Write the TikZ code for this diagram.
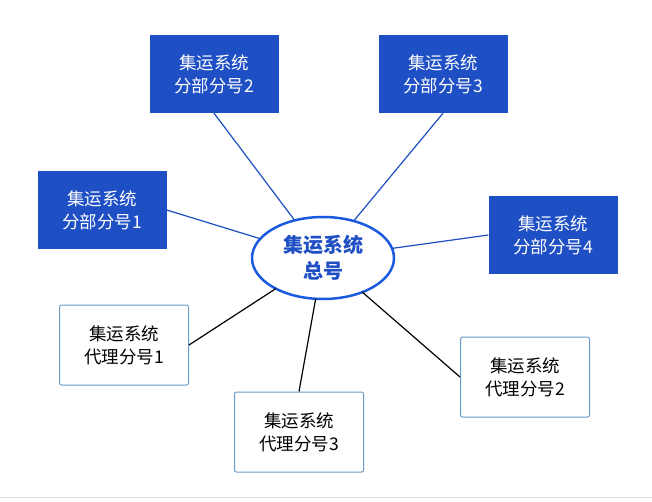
\documentclass[tikz,border=0pt]{standalone}
\usepackage{fontspec}
\setmainfont{Noto Sans CJK SC}
\usetikzlibrary{shapes.geometric,shadows}
\definecolor{bblue}{HTML}{1F4FC4}
\definecolor{lblue}{HTML}{6A9CC8}
\definecolor{eblue}{HTML}{1A5AE0}
\begin{document}
\begin{tikzpicture}[x=1pt,y=-1pt,
  part/.style={rectangle,fill=bblue,text=white,minimum width=129pt,minimum height=78pt,align=center,font=\fontsize{17.5}{23}\selectfont,inner sep=0pt},
  agent/.style={rectangle,fill=white,draw=lblue,line width=1pt,text=black,minimum width=129pt,minimum height=80pt,align=center,font=\fontsize{17.5}{23}\selectfont,inner sep=0pt,rounded corners=2pt},
  bl/.style={draw=bblue,line width=1.2pt},
  kl/.style={draw=black,line width=1.2pt}]
\useasboundingbox (0,0) rectangle (652,502);
\fill[white] (0,0) rectangle (652,502);
\draw[gray!30] (0,497) -- (652,497);
\node[ellipse,draw=eblue,line width=2.5pt,fill=white,minimum width=142pt,minimum height=82pt,align=center,text=bblue,font=\bfseries\fontsize{20}{26}\selectfont,inner sep=0pt,outer sep=0pt] (c) at (323,258) {集运系统\\总号};
\node[part] (p2) at (214,74) {集运系统\\分部分号2};
\node[part] (p3) at (443,74) {集运系统\\分部分号3};
\node[part] (p1) at (102,210) {集运系统\\分部分号1};
\node[part] (p4) at (553,235) {集运系统\\分部分号4};
\node[agent] (a1) at (124,345) {集运系统\\代理分号1};
\node[agent] (a3) at (299,432) {集运系统\\代理分号3};
\node[agent] (a2) at (525,377) {集运系统\\代理分号2};
\draw[bl] (p2.south) -- (c);
\draw[bl] (p3.south) -- (c);
\draw[bl] (p1.east) -- (c);
\draw[bl] (p4.west) -- (c);
\draw[kl] (a1.east) -- (c);
\draw[kl] (a3.north) -- (c);
\draw[kl] (a2.west) -- (c);
\end{tikzpicture}
\end{document}
